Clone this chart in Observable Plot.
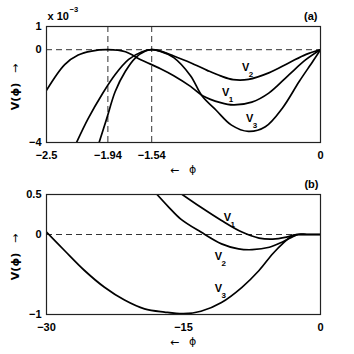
<!DOCTYPE html>
<html><head><meta charset="utf-8">
<script src="https://cdn.jsdelivr.net/npm/d3@7"></script>
<script src="https://cdn.jsdelivr.net/npm/@observablehq/plot@0.6"></script>
<style>
body{margin:0;background:#fff;}
#wrap{position:relative;width:354px;height:354px;overflow:hidden;background:#fff;}
#wrap svg{position:absolute;left:0;}
</style></head><body><div id="wrap"></div>
<script>
// ---------- Panel (a): V(phi) in units of 10^-3 ----------
const phiA1 = [-2.5, -2.334, -2.211, -2.088, -1.94, -1.78, -1.64, -1.46, -1.339, -1.186, -1.076, -0.912, -0.797, -0.627, -0.472, -0.286, -0.131, 0];
const vA1   = [-1.75, -0.64, -0.23, -0.06, 0, -0.09, -0.43, -0.82, -1.12, -1.58, -1.98, -2.28, -2.38, -2.26, -1.87, -1.07, -0.42, 0];
const phiA2 = [-2.226, -2.119, -1.995, -1.873, -1.75, -1.627, -1.54, -1.46, -1.339, -1.186, -1.034, -0.912, -0.797, -0.657, -0.472, -0.286, -0.131, 0];
const vA2   = [-4, -2.96, -1.94, -1.07, -0.42, -0.09, 0, -0.06, -0.27, -0.56, -0.89, -1.13, -1.29, -1.28, -1.0, -0.56, -0.2, 0];
const phiA3 = [-2.02, -1.95, -1.873, -1.78, -1.688, -1.596, -1.54, -1.46, -1.339, -1.186, -1.08, -0.95, -0.812, -0.658, -0.503, -0.348, -0.193, -0.068, 0];
const vA3   = [-4, -2.96, -1.80, -0.93, -0.35, -0.06, 0, -0.07, -0.34, -1.12, -2.0, -2.62, -3.25, -3.52, -3.32, -2.52, -1.36, -0.49, 0];

// ---------- Panel (b) ----------
const phiB1 = [-15.14, -13.09, -10.84, -8.6, -6.73, -5.23, -3.73, -2.62, -1.5, 0];
const vB1   = [0.5, 0.34, 0.175, 0.03, -0.045, -0.058, -0.033, 0, 0, 0];
const phiB2 = [-17.9, -16.6, -15.33, -13.09, -10.84, -8.98, -7.48, -5.6, -4.11, -2.99, -2.43, -1.5, 0];
const vB2   = [0.5, 0.34, 0.196, 0.03, -0.117, -0.18, -0.19, -0.16, -0.09, -0.025, 0, 0, 0];
const phiB3 = [-30, -28.03, -25.84, -23.65, -21.46, -19.27, -17.08, -15, -13.09, -10.84, -8.6, -6.73, -5.23, -4.11, -2.99, -2.43, -1.5, 0];
const vB3   = [0.03, -0.2, -0.45, -0.66, -0.82, -0.93, -0.97, -0.99, -0.96, -0.85, -0.66, -0.45, -0.24, -0.11, -0.01, 0, 0, 0];

// tick values and labels
const ticksAx = [-2.5, -1.94, -1.54, 0];
const ticksAy = [1, 0, -4];
const ticksBx = [-30, -15, 0];
const ticksBy = [0.5, 0, -1];
const markersA = [-1.94, -1.54];

// curve labels (subscript index, anchor in data coords)
const seriesIds = ["1", "2", "3"];
const labPhiA = [-0.865, -0.682, -0.646];
const labVA   = [-1.85, -0.78, -2.95];
const labPhiB = [-10.19, -11.18, -11.18];
const labVB   = [0.216, -0.275, -0.68];

const FONT = "'Liberation Sans', Arial, Helvetica, sans-serif";
const SYM = "'DejaVu Sans', sans-serif";
const fmt = d => String(d).replace("-", "\u2212");
const rows = (phi, v, s) => phi.map((p, i) => ({phi: p, v: v[i], s}));
const dataA = [...rows(phiA1, vA1, "1"), ...rows(phiA2, vA2, "2"), ...rows(phiA3, vA3, "3")];
const dataB = [...rows(phiB1, vB1, "1"), ...rows(phiB2, vB2, "2"), ...rows(phiB3, vB3, "3")];
const labA = seriesIds.map((s, i) => ({s, phi: labPhiA[i], v: labVA[i]}));
const labB = seriesIds.map((s, i) => ({s, phi: labPhiB[i], v: labVB[i]}));

function common(ticksX, ticksY, labs, extra) {
  return [
    Plot.axisX(ticksX, {tickSize: 0, tickPadding: 9, fontSize: 11, fontWeight: "bold", label: null, tickFormat: fmt}),
    Plot.axisY(ticksY, {tickSize: 0, tickPadding: 5, fontSize: 11, fontWeight: "bold", label: null, tickFormat: fmt}),
    Plot.ruleY([0], {stroke: "#333", strokeWidth: 1, strokeDasharray: "6,4"}),
    ...extra,
    Plot.frame({stroke: "#222", strokeWidth: 1.2}),
    Plot.text(labs, {x: "phi", y: "v", text: () => "V", fontSize: 11, fontWeight: "bold", textAnchor: "middle", lineAnchor: "middle"}),
    Plot.text(labs, {x: "phi", y: "v", text: "s", fontSize: 8, fontWeight: "bold", textAnchor: "start", dx: 3, dy: 7, lineAnchor: "middle"}),
    // y-axis label: "V(ϕ)" and arrow
    Plot.text(["V(\u03D5)"], {text: d => d, frameAnchor: "left", rotate: -90, dx: -31, dy: 12, fontSize: 11, fontWeight: "bold", fontFamily: SYM, textAnchor: "middle", lineAnchor: "middle"}),
    Plot.text(["\u2192"], {text: d => d, frameAnchor: "left", rotate: -90, dx: -31, dy: -16, fontSize: 11, fontFamily: SYM, textAnchor: "middle", lineAnchor: "middle"}),
    // x-axis label: arrow and ϕ
    Plot.text(["\u2190"], {text: d => d, frameAnchor: "bottom", dx: -9, dy: 28, fontSize: 11, fontFamily: SYM, textAnchor: "middle", lineAnchor: "middle"}),
    Plot.text(["\u03D5"], {text: d => d, frameAnchor: "bottom", dx: 9, dy: 27, fontSize: 11, fontFamily: SYM, textAnchor: "middle", lineAnchor: "middle"})
  ];
}

const plotA = Plot.plot({
  width: 354, height: 177,
  marginLeft: 46, marginRight: 34, marginTop: 26, marginBottom: 35,
  style: {fontFamily: FONT, background: "transparent"},
  x: {domain: [-2.5, 0]},
  y: {domain: [-4, 1]},
  marks: common(ticksAx, ticksAy, labA, [
    Plot.ruleX(markersA, {stroke: "#333", strokeWidth: 1, strokeDasharray: "6,4"}),
    Plot.line(dataA, {x: "phi", y: "v", z: "s", curve: "catmull-rom", stroke: "black", strokeWidth: 1.7, clip: true}),
    Plot.text(["x 10"], {text: d => d, frameAnchor: "top-left", dx: 1, dy: -10, fontSize: 11, fontWeight: "bold", textAnchor: "start", lineAnchor: "middle"}),
    Plot.text(["\u22123"], {text: d => d, frameAnchor: "top-left", dx: 23, dy: -16.5, fontSize: 7.5, fontWeight: "bold", textAnchor: "start", lineAnchor: "middle"}),
    Plot.text(["(a)"], {text: d => d, frameAnchor: "top-right", dx: -3, dy: -10.5, fontSize: 11, fontWeight: "bold", textAnchor: "end", lineAnchor: "middle"})
  ])
});

const plotB = Plot.plot({
  width: 354, height: 177,
  marginLeft: 46, marginRight: 34, marginTop: 17, marginBottom: 40,
  style: {fontFamily: FONT, background: "transparent"},
  x: {domain: [-30, 0]},
  y: {domain: [-1, 0.5]},
  marks: common(ticksBx, ticksBy, labB, [
    Plot.line(dataB, {x: "phi", y: "v", z: "s", curve: "catmull-rom", stroke: "black", strokeWidth: 1.7, clip: true}),
    Plot.text(["(b)"], {text: d => d, frameAnchor: "top-right", dx: -2, dy: -10.5, fontSize: 11, fontWeight: "bold", textAnchor: "end", lineAnchor: "middle"})
  ])
});

plotA.style.top = "0px";
plotB.style.top = "177px";
const wrap = document.getElementById("wrap");
wrap.appendChild(plotA);
wrap.appendChild(plotB);
</script>
</body></html>
